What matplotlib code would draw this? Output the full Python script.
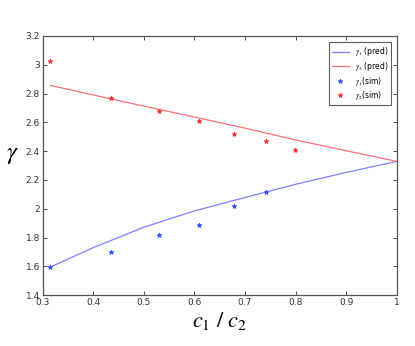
import matplotlib
matplotlib.use('Agg')
import matplotlib.pyplot as plt

plt.rcParams['mathtext.fontset'] = 'stix'

# simulated values
x_sim1 = [0.315, 0.435, 0.529, 0.608, 0.678, 0.741]
g1_sim = [1.597, 1.697, 1.817, 1.887, 2.016, 2.118]
x_sim2 = [0.315, 0.435, 0.529, 0.608, 0.678, 0.741, 0.799]
g2_sim = [3.029, 2.767, 2.679, 2.609, 2.519, 2.468, 2.408]

# predicted curves
x_pred = [0.315, 0.4, 0.5, 0.6, 0.7, 0.8, 0.9, 1.0]
g1_pred = [1.595, 1.730, 1.872, 1.985, 2.078, 2.170, 2.252, 2.329]
g2_pred = [2.857, 2.790, 2.713, 2.637, 2.560, 2.478, 2.403, 2.329]

fig = plt.figure(figsize=(4.15, 3.46), dpi=100, facecolor='white')
ax = fig.add_axes([0.103, 0.147, 0.853, 0.749])

ax.plot(x_pred, g1_pred, color='#8080ff', lw=0.9, label=r'$\gamma_1$ (pred)')
ax.plot(x_pred, g2_pred, color='#ff7070', lw=0.9, label=r'$\gamma_2$ (pred)')
ax.plot(x_sim1, g1_sim, '*', color='#3050ff', ms=3.5, mew=0.6, ls='none',
        label=r'$\gamma_1$(sim)')
ax.plot(x_sim2, g2_sim, '*', color='#ff3030', ms=3.5, mew=0.6, ls='none',
        label=r'$\gamma_2$(sim)')

ax.set_xlim(0.3, 1.0)
ax.set_ylim(1.4, 3.2)
ax.set_xticks([0.3, 0.4, 0.5, 0.6, 0.7, 0.8, 0.9, 1.0])
ax.set_xticklabels(['0.3', '0.4', '0.5', '0.6', '0.7', '0.8', '0.9', '1'])
ax.set_yticks([1.4, 1.6, 1.8, 2.0, 2.2, 2.4, 2.6, 2.8, 3.0, 3.2])
ax.set_yticklabels(['1.4', '1.6', '1.8', '2', '2.2', '2.4', '2.6', '2.8', '3', '3.2'])
ax.tick_params(direction='in', top=True, right=True, length=3, width=0.6,
               labelsize=6.5, colors='#333333', pad=2)
for s in ax.spines.values():
    s.set_color('#555555')
    s.set_linewidth(0.9)

ax.set_xlabel(r'$c_1\ /\ c_2$', fontsize=16, labelpad=2)
ax.set_ylabel(r'$\gamma$', fontsize=18, rotation=0, labelpad=8)
ax.yaxis.set_label_coords(-0.085, 0.5)

leg = ax.legend(loc='upper right', fontsize=5.5, frameon=True, fancybox=False,
                borderpad=0.4, handlelength=2.2, labelspacing=0.2,
                bbox_to_anchor=(0.995, 0.99))
leg.get_frame().set_edgecolor('#333333')
leg.get_frame().set_linewidth(0.8)

fig.savefig('out.png', dpi=100, facecolor='white')
